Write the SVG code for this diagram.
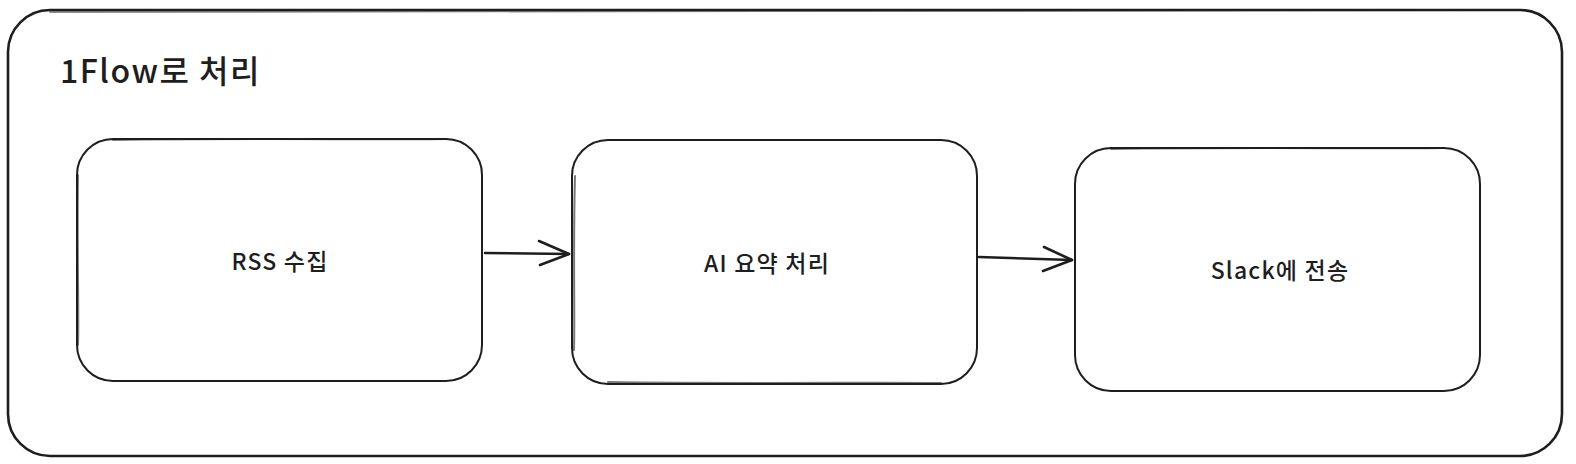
<svg xmlns="http://www.w3.org/2000/svg" width="1576" height="464" viewBox="0 0 1576 464">
<style>
.s{fill:none;stroke:#1e1e1e;stroke-width:2;stroke-linecap:round;stroke-linejoin:round}
.o{fill:none;stroke:#1e1e1e;stroke-width:2.6;stroke-linecap:round;stroke-linejoin:round}
.t{font-family:"Noto Sans CJK KR","Noto Sans",sans-serif;fill:#1e1e1e;font-weight:500}
</style>
<rect width="1576" height="464" fill="#ffffff"/>
<g id="frame">
<rect class="o" x="8" y="10" width="1554" height="446" rx="42" ry="42"/>
<path class="s" d="M50 12 C600 9 1100 11 1518 10" opacity="0.5"/>
<text class="t" x="60" y="83" font-size="32" letter-spacing="1.5">1Flow로 처리</text>
</g>
<g id="rss">
<rect class="s" x="77" y="139" width="405" height="242" rx="36" ry="36"/>
<path class="s" d="M113 140 C250 138 380 140 446 139 M78 175 C77 250 79 320 78 345" opacity="0.6"/>
<text class="t" x="280" y="270" font-size="23" letter-spacing="1.2" text-anchor="middle">RSS 수집</text>
</g>
<g id="ai">
<rect class="s" x="572" y="140" width="405" height="244" rx="36" ry="36"/>
<path class="s" d="M575 176 C573 250 575 320 574 350 M608 382 C750 384 880 382 941 383" opacity="0.6"/>
<text class="t" x="767" y="272" font-size="23" letter-spacing="1.2" text-anchor="middle">AI 요약 처리</text>
</g>
<g id="slack">
<rect class="s" x="1075" y="148" width="405" height="243" rx="36" ry="36"/>
<path class="s" d="M1111 149 C1250 147 1380 149 1444 148" opacity="0.6"/>
<text class="t" x="1280" y="279" font-size="23" letter-spacing="1.2" text-anchor="middle">Slack에 전송</text>
</g>
<g id="connectors">
<path class="o" d="M485 253 L569 254"/>
<path class="o" d="M539 241 L569 254 L540 265"/>
<path class="o" d="M979 257 L1072 260"/>
<path class="o" d="M1044 247 L1072 260 L1043 271"/>
</g>
</svg>
